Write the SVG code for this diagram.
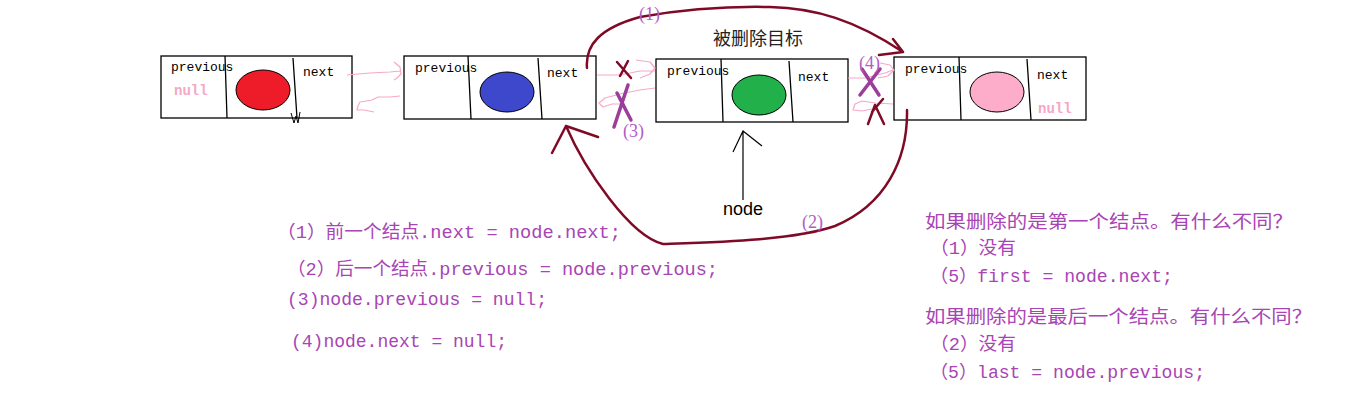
<svg xmlns="http://www.w3.org/2000/svg" width="1360" height="410" viewBox="0 0 1360 410">
<style>
.box{fill:#fff;stroke:#000;stroke-width:1.3}
.div{fill:none;stroke:#000;stroke-width:1.3}
.fld{font-family:"Liberation Mono",monospace;font-size:13px;fill:#000}
.nul{font-family:"Liberation Mono",monospace;font-size:14px;font-weight:bold;fill:#f6a6c6}
.ell{stroke:#000;stroke-width:1}
.pink{fill:none;stroke:#f7a8c8;stroke-width:1.2;stroke-linejoin:round}
.maroon{fill:none;stroke:#7f0a26;stroke-width:2.5;stroke-linecap:round;stroke-linejoin:round}
.px{fill:none;stroke:#9b3d9b;stroke-width:3.5;stroke-linecap:round}
.code{font-family:"Liberation Mono","Noto Sans CJK SC",monospace;font-size:18px;fill:#a844b4}
.lbl{font-family:"Liberation Serif",serif;font-size:18px;fill:#b35cc6}
</style>
<rect width="1360" height="410" fill="#fff"/>
<g id="node1">
<rect class="box" x="161" y="56" width="191" height="62"/>
<path class="div" d="M225,56 L227,118 M293,58 L297,118"/>
<ellipse class="ell" cx="263" cy="90" rx="27" ry="20" fill="#ee1c28"/>
<text class="fld" x="171" y="71">previous</text>
<text class="nul" x="174" y="95">null</text>
<text class="fld" x="303" y="76">next</text>
<path d="M291,113 L294,123 L296,116 L298,123 L300,112" fill="none" stroke="#000" stroke-width="1"/>
</g>
<g id="node2">
<rect class="box" x="404" y="56" width="192" height="63"/>
<path class="div" d="M468,56 L471,119 M538,58 L542,119"/>
<ellipse class="ell" cx="507" cy="92" rx="27" ry="20" fill="#3e48cc"/>
<text class="fld" x="415" y="72">previous</text>
<text class="fld" x="547" y="77">next</text>
</g>
<g id="node3">
<rect class="box" x="656" y="59" width="192" height="63"/>
<path class="div" d="M721,59 L723,122 M789,61 L793,122"/>
<ellipse class="ell" cx="759" cy="95" rx="27" ry="20" fill="#22b04a"/>
<text class="fld" x="667" y="75">previous</text>
<text class="fld" x="798" y="81">next</text>
</g>
<g id="node4">
<rect class="box" x="894" y="57" width="192" height="63"/>
<path class="div" d="M959,57 L961,120 M1027,59 L1031,120"/>
<ellipse class="ell" cx="997" cy="92" rx="27" ry="20" fill="#fdadc9"/>
<text class="fld" x="905" y="73">previous</text>
<text class="fld" x="1037" y="79">next</text>
<text class="nul" x="1038" y="113">null</text>
</g>
<g id="title">
<text x="758" y="45" text-anchor="middle" font-family="'Noto Sans CJK SC',sans-serif" font-size="18" fill="#222">被删除目标</text>
</g>
<g id="pointer">
<text x="743" y="215" text-anchor="middle" font-family="'Liberation Sans',sans-serif" font-size="18" fill="#000">node</text>
</g>
<g id="connectors">
<path class="pink" d="M347,75 L370,73 L390,72 L400,71 M394,62 L400,67 L401,74 L397,78 L394,80"/>
<path class="pink" d="M400,96 L390,97 L378,97 L372,100 L360,102 L358,106 L357,110 L364,110 L374,112"/>
<path class="pink" d="M597,75 L620,75 L640,71 L655,71 M636,60 L650,62 L655,68 L650,74 L640,78"/>
<path class="pink" d="M655,88 L640,90 L620,94 L605,98 L599,103 L603,107 L612,104 L625,104"/>
<path class="pink" d="M848,78 L865,78 L885,73 L893,70 M880,63 L890,65 L894,70 L888,76 L878,78"/>
<path class="pink" d="M893,104 L875,103 L862,101 L855,104 L853,110 L862,111 L872,109"/>
<path class="maroon" d="M587,68 C585,45 600,28 640,17 C680,10 720,6 770,7 C815,8 855,20 903,52 M893,39 L903,52 L879,55"/>
<path class="maroon" d="M907,110 C908,160 885,205 835,226 C795,240 720,242 663,244 C630,236 585,170 566,126 M552,153 L566,126 L598,137"/>
<path d="M743,200 L743,131 M733,152 L743,131 L762,146" fill="none" stroke="#000" stroke-width="1.2"/>
<path class="maroon" d="M617,62 L631,78 M628,61 L620,76" stroke-width="2"/>
<path class="px" d="M628,85 L614,127 M617,93 L631,120"/>
<path class="px" d="M862,69 L879,95 M880,69 L860,95"/>
<path class="maroon" d="M868,124 L875,105 L884,124 M883,99 L872,112" stroke-width="2"/>
</g>
<g id="labels">
<text class="lbl" x="639" y="20">(1)</text>
<text class="lbl" x="802" y="228">(2)</text>
<text class="lbl" x="623" y="137">(3)</text>
<text class="lbl" x="859" y="69">(4)</text>
</g>
<g id="notes">
<text class="code" x="277" y="238" textLength="344" lengthAdjust="spacingAndGlyphs">（1）前一个结点.next = node.next;</text>
<text class="code" x="287" y="275" textLength="431" lengthAdjust="spacingAndGlyphs">（2）后一个结点.previous = node.previous;</text>
<text class="code" x="287" y="305" textLength="260" lengthAdjust="spacingAndGlyphs">(3)node.previous = null;</text>
<text class="code" x="291" y="347" textLength="216" lengthAdjust="spacingAndGlyphs">(4)node.next = null;</text>
<text class="code" x="925" y="228" textLength="368" lengthAdjust="spacingAndGlyphs">如果删除的是第一个结点。有什么不同？</text>
<text class="code" x="930" y="254" textLength="86" lengthAdjust="spacingAndGlyphs">（1）没有</text>
<text class="code" x="930" y="282" textLength="243" lengthAdjust="spacingAndGlyphs">（5）first = node.next;</text>
<text class="code" x="925" y="323" textLength="387" lengthAdjust="spacingAndGlyphs">如果删除的是最后一个结点。有什么不同？</text>
<text class="code" x="930" y="350" textLength="86" lengthAdjust="spacingAndGlyphs">（2）没有</text>
<text class="code" x="930" y="378" textLength="275" lengthAdjust="spacingAndGlyphs">（5）last = node.previous;</text>
</g>
</svg>
